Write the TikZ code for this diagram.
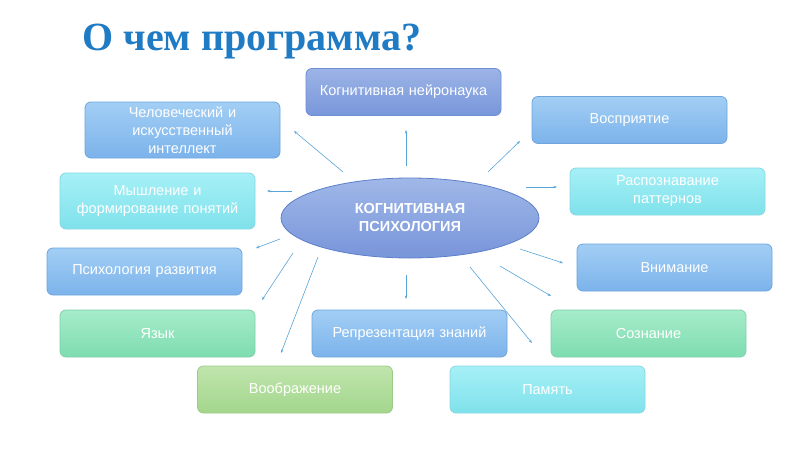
\documentclass[tikz,border=0pt]{standalone}
\usepackage{fontspec}
\setmainfont{Liberation Sans}
\newfontfamily\titlefont{Liberation Serif}
\usetikzlibrary{shapes.geometric,arrows.meta}
\definecolor{titleblue}{HTML}{1F7BC4}
\definecolor{linecol}{HTML}{5AA5D8}
\definecolor{neuroD}{HTML}{6F8ED3}\definecolor{neuroT}{HTML}{9CB4E6}\definecolor{neuroB}{HTML}{7896DB}
\definecolor{lightD}{HTML}{6EA6DC}\definecolor{lightT}{HTML}{A2CEF4}\definecolor{lightB}{HTML}{7CB3EB}
\definecolor{cyanD}{HTML}{86D9E4}\definecolor{cyanT}{HTML}{A6F0F6}\definecolor{cyanB}{HTML}{7FE1EB}
\definecolor{greenD}{HTML}{7ED2A8}\definecolor{greenT}{HTML}{A6ECCA}\definecolor{greenB}{HTML}{7EDCB0}
\definecolor{lgreenD}{HTML}{9CCB88}\definecolor{lgreenT}{HTML}{C0E5AD}\definecolor{lgreenB}{HTML}{A3D68C}
\definecolor{ellD}{HTML}{5E80C9}\definecolor{ellT}{HTML}{A0B8E8}\definecolor{ellB}{HTML}{7895DA}
\tikzset{
  box/.style={rounded corners=6pt, minimum width=195pt, minimum height=47pt, text width=187pt, align=center, text=white, font=\fontsize{14.5}{18}\selectfont, line width=0.8pt, inner sep=2pt},
  bneuro/.style={box, draw=neuroD, top color=neuroT, bottom color=neuroB},
  blight/.style={box, draw=lightD, top color=lightT, bottom color=lightB},
  bcyan/.style={box, draw=cyanD, top color=cyanT, bottom color=cyanB},
  bgreen/.style={box, draw=greenD, top color=greenT, bottom color=greenB},
  blgreen/.style={box, draw=lgreenD, top color=lgreenT, bottom color=lgreenB},
  conn/.style={draw=linecol, line width=0.6pt, -{Stealth[length=3.5pt,width=2.6pt]}},
}
\begin{document}
\begin{tikzpicture}[x=1pt,y=-1pt]
\useasboundingbox[fill=white] (0,0) rectangle (800,450);
\node[anchor=west, text=titleblue, font=\titlefont\bfseries\fontsize{40}{44}\selectfont] (title) at (79,42) {О чем программа?};

\node[ellipse, draw=ellD, line width=0.8pt, top color=ellT, bottom color=ellB, minimum width=258pt, minimum height=80pt, text=white, align=center, font=\bfseries\fontsize{14.5}{18}\selectfont] (center) at (410,218) {КОГНИТИВНАЯ\\ПСИХОЛОГИЯ};

\node[bneuro] (neuro) at (403.5,92) {Когнитивная нейронаука};
\node[blight, minimum height=56pt] (ai) at (182.5,130) {Человеческий и\\искусственный\\интеллект};
\node[blight] (vospr) at (629.5,120) {Восприятие};
\node[bcyan, minimum height=56pt] (myshl) at (157.5,201) {Мышление и\\формирование понятий};
\node[bcyan] (rasp) at (667.5,191.5) {Распознавание\\паттернов};
\node[blight] (psydev) at (144.5,271.5) {Психология развития};
\node[blight] (vnim) at (674.5,267.5) {Внимание};
\node[bgreen] (yazyk) at (157.5,333.5) {Язык};
\node[blight] (repr) at (409.5,333.5) {Репрезентация знаний};
\node[bgreen] (sozn) at (648.5,333.5) {Сознание};
\node[blgreen] (voobr) at (295,389.5) {Воображение};
\node[bcyan] (pamyat) at (547.5,389.5) {Память};

% connector endpoints
\coordinate (s1) at (406,166); \coordinate (e1) at (406,130);
\coordinate (s2) at (343,172); \coordinate (e2) at (294,131);
\coordinate (s3) at (488,172); \coordinate (e3) at (520,141);
\coordinate (s4) at (526,187); \coordinate (e4) at (557,187);
\coordinate (s5) at (292,191); \coordinate (e5) at (267,191);
\coordinate (s6) at (280,239); \coordinate (e6) at (256,248);
\coordinate (s7) at (293,253); \coordinate (e7) at (262,300);
\coordinate (s8) at (318,257); \coordinate (e8) at (281,353);
\coordinate (s9) at (406,275); \coordinate (e9) at (406,299);
\coordinate (s10) at (470,267); \coordinate (e10) at (532,343);
\coordinate (s11) at (500,266); \coordinate (e11) at (551,296);
\coordinate (s12) at (520,249); \coordinate (e12) at (563,263);
\foreach \i in {1,...,12} { \draw[conn] (s\i) -- (e\i); }
\end{tikzpicture}
\end{document}
